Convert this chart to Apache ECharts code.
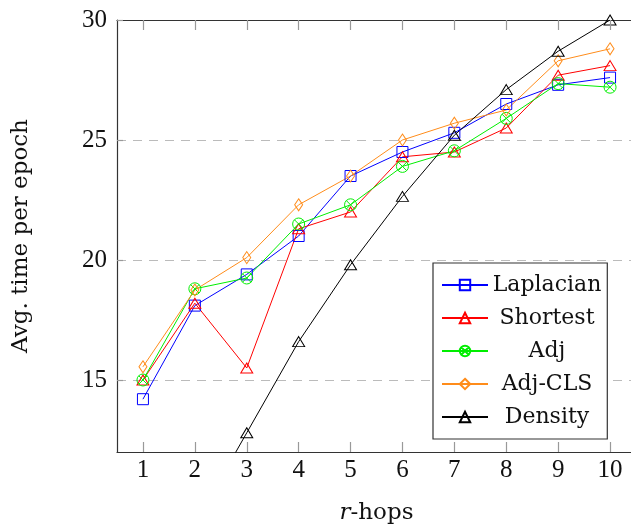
<!DOCTYPE html>
<html>
<head>
<meta charset="utf-8">
<style>
  html, body { margin: 0; padding: 0; background: #fff; }
  #main { width: 631px; height: 524px; }
</style>
<script src="https://cdn.jsdelivr.net/npm/echarts@6/dist/echarts.min.js"></script>
</head>
<body>
<div id="main"></div>
<script>
// r-hops on the x axis
var hops = [1, 2, 3, 4, 5, 6, 7, 8, 9, 10];
var yTicks = [15, 20, 25, 30];

// avg. time per epoch
var laplacian = [14.2, 18.1, 19.4, 21.0, 23.5, 24.5, 25.3, 26.5, 27.3, 27.6];
var shortest  = [15.0, 18.2, 15.5, 21.3, 22.0, 24.3, 24.5, 25.5, 27.7, 28.1];
var adj       = [15.0, 18.8, 19.25, 21.5, 22.3, 23.9, 24.55, 25.9, 27.35, 27.2];
var adjCls    = [15.55, 18.75, 20.1, 22.3, 23.5, 25.0, 25.7, 26.25, 28.3, 28.8];
var density   = [5.3, 9.0, 12.8, 16.6, 19.8, 22.65, 25.2, 27.1, 28.7, 30.0];

var Y_MIN = 12, Y_MAX = 30;
var SERIF = '"DejaVu Serif", "Liberation Serif", serif';
var NUM = '"Liberation Serif", "DejaVu Serif", serif';
var otimes = 'path://M0,10 A10,10 0 1,1 20,10 A10,10 0 1,1 0,10 Z M2.93,2.93 L17.07,17.07 M17.07,2.93 L2.93,17.07';

function mk(name, vals, color, symbol, size) {
	return {
		name: name,
		type: 'line',
		data: hops.map(function (h, i) { return [h, vals[i]]; }),
		symbol: symbol,
		symbolSize: size,
		clip: true,
		lineStyle: { color: color, width: 1 },
		itemStyle: { color: 'rgba(0,0,0,0)', borderColor: color, borderWidth: 1 },
		emphasis: { disabled: true },
		animation: false
	};
}

// inner tick marks on bottom and top frame (pgfplots style), ~10px long
var tickLen = 10 / 24;
var tickMarks = [];
hops.forEach(function (h) {
	tickMarks.push([{ coord: [h, Y_MIN] }, { coord: [h, Y_MIN + tickLen] }]);
	tickMarks.push([{ coord: [h, Y_MAX - tickLen] }, { coord: [h, Y_MAX] }]);
});

var series = [
	mk('Laplacian', laplacian, '#0000ff', 'rect', 11),
	mk('Shortest', shortest, '#ff0000', 'triangle', [12, 10]),
	mk('Adj', adj, '#00ee00', otimes, 12),
	mk('Adj-CLS', adjCls, '#ff8c1a', 'diamond', [8, 12]),
	mk('Density', density, '#000000', 'triangle', [12, 10])
];
series[0].markLine = {
	silent: true,
	symbol: 'none',
	animation: false,
	label: { show: false },
	emphasis: { disabled: true },
	lineStyle: { color: '#999', width: 1.2, type: 'solid' },
	data: tickMarks
};

var chart = echarts.init(document.getElementById('main'));

chart.setOption({
	animation: false,
	grid: { left: 117, top: 20, width: 519, height: 432, outerBoundsMode: 'none' },
	legend: {
		left: 433,
		top: 263,
		orient: 'vertical',
		backgroundColor: '#fff',
		borderColor: '#333',
		borderWidth: 1.2,
		borderRadius: 0,
		padding: [11, 6, 11, 8],
		itemWidth: 46,
		itemHeight: 13,
		itemGap: 11,
		formatter: '{t|{name}}',
		textStyle: {
			fontFamily: SERIF,
			fontSize: 22,
			color: '#111',
			rich: { t: { width: 108, align: 'center', fontFamily: SERIF, fontSize: 22, lineHeight: 23 } }
		},
		data: ['Laplacian', 'Shortest', 'Adj', 'Adj-CLS', 'Density']
	},
	xAxis: [
		{
			type: 'value',
			min: 0.5,
			max: 10.5,
			name: '{i|r}-hops',
			nameLocation: 'middle',
			nameGap: 50,
			nameTextStyle: {
				fontFamily: SERIF, fontSize: 23, color: '#111',
				rich: { i: { fontFamily: SERIF, fontStyle: 'italic', fontSize: 23 } }
			},
			axisLine: { show: true, lineStyle: { color: '#333', width: 1.2 } },
			axisTick: { show: false },
			axisLabel: { fontFamily: NUM, fontSize: 25, color: '#111', margin: 6, customValues: hops },
			splitLine: { show: false }
		},
		{
			type: 'value',
			min: 0.5,
			max: 10.5,
			position: 'top',
			axisLine: { show: true, lineStyle: { color: '#333', width: 1.2 } },
			axisTick: { show: false },
			axisLabel: { show: false },
			splitLine: { show: false }
		}
	],
	yAxis: [
		{
			type: 'value',
			min: Y_MIN,
			max: Y_MAX,
			name: 'Avg. time per epoch',
			nameLocation: 'middle',
			nameGap: 84,
			nameTextStyle: { fontFamily: SERIF, fontSize: 23, color: '#111' },
			axisLine: { show: true, lineStyle: { color: '#333', width: 1.2 } },
			axisTick: { show: true, inside: true, length: 6, customValues: yTicks, lineStyle: { color: '#999', width: 1.2 } },
			axisLabel: { fontFamily: NUM, fontSize: 25, color: '#111', margin: 10, customValues: yTicks },
			splitLine: { show: true, lineStyle: { color: '#bbb', type: [9, 7], width: 1 } }
		}
	],
	series: series
});
</script>
</body>
</html>
